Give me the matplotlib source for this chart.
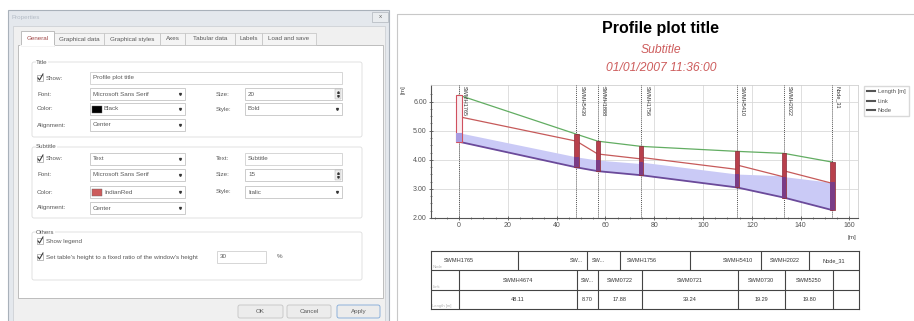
import numpy as np
import matplotlib
matplotlib.use('Agg')
import matplotlib.pyplot as plt
from matplotlib.patches import Rectangle, FancyBboxPatch
from matplotlib.lines import Line2D

plt.rcParams['font.family'] = ['Liberation Sans', 'DejaVu Sans']

# ---- profile data ----
node_names = ['SWMH1765', 'SWMH5439', 'SWMH1888', 'SWMH1756', 'SWMH5410', 'SWMH2022', 'Node_31']
node_table_labels = ['SWMH1765', 'SW...', 'SW...', 'SWMH1756', 'SWMH5410', 'SWMH2022', 'Node_31']
link_labels = ['SWMH4674', 'SW...', 'SWM0722', 'SWM0721', 'SWM0730', 'SWM5250']
link_lengths = [48.11, 8.70, 17.88, 39.24, 19.29, 19.80]

ground_level = [6.22, 4.88, 4.64, 4.46, 4.29, 4.22, 3.92]
node_invert = [4.62, 3.74, 3.61, 3.47, 3.05, 2.70, 2.27]
node_water = [4.93, 4.10, 3.99, 3.92, 3.51, 3.42, 3.22]

link_inv_up = [4.62, 3.74, 3.61, 3.47, 3.05, 2.70]
link_inv_dn = [3.74, 3.61, 3.47, 3.05, 2.70, 2.27]
link_top_up = [5.48, 4.64, 4.20, 4.08, 3.82, 3.62]
link_top_dn = [4.64, 4.20, 4.03, 3.67, 3.41, 3.19]
water_up = [4.93, 4.10, 3.99, 3.92, 3.51, 3.42]
water_dn = [4.10, 3.99, 3.87, 3.51, 3.45, 3.22]

chainage = np.concatenate([[0], np.cumsum(link_lengths)])

W, H = 914, 321
fig = plt.figure(figsize=(W / 100, H / 100), dpi=100)
fig.patch.set_facecolor('white')

bg = fig.add_axes([0, 0, 1, 1])
bg.set_xlim(0, W)
bg.set_ylim(H, 0)
bg.axis('off')


def px_axes(x0, y0, x1, y1):
    return fig.add_axes([x0 / W, 1 - y1 / H, (x1 - x0) / W, (y1 - y0) / H])


def rect(x0, y0, x1, y1, fc, ec, lw=0.6, z=1, rounded=False):
    if rounded:
        p = FancyBboxPatch((x0, y0), x1 - x0, y1 - y0, boxstyle='round,pad=0,rounding_size=2',
                           facecolor=fc, edgecolor=ec, lw=lw, zorder=z)
    else:
        p = Rectangle((x0, y0), x1 - x0, y1 - y0, facecolor=fc, edgecolor=ec, lw=lw, zorder=z)
    bg.add_patch(p)


def txt(x, y, s, size=4.5, color='#5a5a5a', **kw):
    kw.setdefault('ha', 'left')
    kw.setdefault('va', 'center')
    bg.text(x, y, s, fontsize=size, color=color, zorder=5, **kw)


def combo(x0, x1, y, s, swatch=None):
    rect(x0, y - 6, x1, y + 6, 'white', '#c4c4c4', z=3)
    tx = x0 + 3
    if swatch:
        rect(x0 + 2, y - 3.5, x0 + 12, y + 3.5, swatch, '#666', lw=0.3, z=4)
        tx = x0 + 14
    txt(tx, y, s)
    bg.plot(x1 - 5, y, marker='v', ms=1.4, color='#333', zorder=5)


def spin(x0, x1, y, s):
    rect(x0, y - 6, x1, y + 6, 'white', '#c4c4c4', z=3)
    txt(x0 + 3, y, s)
    rect(x1 - 7, y - 5, x1 - 1, y + 5, '#eeeeee', '#aaa', lw=0.3, z=4)
    bg.plot(x1 - 4, y - 2, marker='^', ms=1.2, color='#333', zorder=5)
    bg.plot(x1 - 4, y + 2, marker='v', ms=1.2, color='#333', zorder=5)


def textbox(x0, x1, y, s):
    rect(x0, y - 6, x1, y + 6, 'white', '#d0d0d0', z=3)
    txt(x0 + 3, y, s)


def checkbox(x, y):
    rect(x - 3, y - 3, x + 3, y + 3, 'white', '#8a8a8a', lw=0.4, z=3)
    bg.plot([x - 2, x - 0.5, x + 3], [y, y + 2, y - 4], color='#3a3a3a', lw=0.8, zorder=5)


def group(x0, y0, x1, y1, label):
    rect(x0, y0, x1, y1, 'none', '#dcdcdc', lw=0.6, z=2, rounded=True)
    txt(x0 + 4, y0, label, bbox=dict(facecolor='white', edgecolor='none', pad=0.3))


# ---- Properties dialog ----
rect(8, 10, 389, 330, '#e4e8ed', '#a9b1ba', lw=0.8)
txt(12, 17, 'Properties', color='#b4bcc6')
rect(372, 12, 388, 22, '#e9ecef', '#b0b6bd', lw=0.5, z=2)
txt(380, 17, 'x', size=4.5, color='#666', ha='center')
rect(13, 26, 385, 330, '#f0f0f0', '#c8ccd0', lw=0.5)
rect(18, 45, 383, 298, 'white', '#b4b4b4', lw=0.6, z=2)

tabs = [('General', 21, 54), ('Graphical data', 54, 104), ('Graphical styles', 104, 160),
        ('Axes', 160, 185), ('Tabular data', 185, 235), ('Labels', 235, 262),
        ('Load and save', 262, 316)]
for i, (name, x0, x1) in enumerate(tabs):
    if i == 0:
        rect(x0, 31, x1, 46, 'white', '#b4b4b4', lw=0.6, z=3)
        bg.plot([x0 + 0.4, x1 - 0.4], [45.5, 45.5], color='white', lw=1.2, zorder=4)
        txt((x0 + x1) / 2, 38, name, color='#a04848', ha='center')
    else:
        rect(x0, 33, x1, 45, '#f4f4f4', '#c0c0c0', lw=0.5, z=2)
        txt((x0 + x1) / 2, 39, name, ha='center')

# Title group
group(32, 62, 362, 137, 'Title')
checkbox(40, 78)
txt(46, 78, 'Show:')
textbox(90, 342, 78, 'Profile plot title')
txt(37, 94, 'Font:')
combo(90, 185, 94, 'Microsoft Sans Serif')
txt(216, 94, 'Size:')
spin(245, 342, 94, '20')
txt(37, 109, 'Color:')
combo(90, 185, 109, 'Black', swatch='black')
txt(216, 109, 'Style:')
combo(245, 342, 109, 'Bold')
txt(37, 125, 'Alignment:')
combo(90, 185, 125, 'Center')

# Subtitle group
group(32, 147, 362, 218, 'Subtitle')
checkbox(40, 159)
txt(46, 159, 'Show:')
combo(90, 185, 159, 'Text')
txt(216, 159, 'Text:')
textbox(245, 342, 159, 'Subtitle')
txt(37, 175, 'Font:')
combo(90, 185, 175, 'Microsoft Sans Serif')
txt(216, 175, 'Size:')
spin(245, 342, 175, '15')
txt(37, 192, 'Color:')
combo(90, 185, 192, 'IndianRed', swatch='#cd5c5c')
txt(216, 192, 'Style:')
combo(245, 342, 192, 'Italic')
txt(37, 208, 'Alignment:')
combo(90, 185, 208, 'Center')

# Others group
group(32, 232, 362, 280, 'Others')
checkbox(40, 241)
txt(46, 241, 'Show legend')
checkbox(40, 257)
txt(46, 257, "Set table's height to a fixed ratio of the window's height")
textbox(217, 266, 257, '30')
txt(277, 257, '%')

# buttons
for name, x0, x1, ec in [('OK', 238, 283, '#c4c4c4'), ('Cancel', 287, 331, '#c4c4c4'),
                         ('Apply', 337, 380, '#7fa8d8')]:
    rect(x0, 305, x1, 318, '#ececec', ec, lw=0.6, z=3, rounded=True)
    txt((x0 + x1) / 2, 311.5, name, ha='center')

# ---- chart panel ----
bg.plot([397, 397, W], [H, 14, 14], color='#c8c8c8', lw=0.8, zorder=2)
txt(660, 29, 'Profile plot title', size=11.5, color='black', ha='center', weight='bold')
txt(661, 50, 'Subtitle', size=8.7, color='#cd5c5c', ha='center', style='italic')
txt(661, 68, '01/01/2007 11:36:00', size=8.7, color='#cd5c5c', ha='center', style='italic')
txt(403, 90, '[m]', size=4.5, color='#444', ha='center', rotation=90)
txt(852, 237, '[m]', size=4.5, color='#444', ha='center')

xlim = (-11.5, 163.5)
ylim = (2.0, 6.57)

ax = px_axes(431, 85, 858, 218)
ax.set_xlim(*xlim)
ax.set_ylim(*ylim)
ax.set_xticks(np.arange(0, 161, 20))
ax.set_xticks(np.arange(-10, 161, 5), minor=True)
ax.set_yticks(np.arange(2, 6.1, 1))
ax.set_yticks(np.arange(2, 6.5, 0.25), minor=True)
ax.yaxis.set_major_formatter(matplotlib.ticker.FormatStrFormatter('%.2f'))
ax.tick_params(which='both', direction='inout', labelsize=5, colors='#555', pad=1.5)
ax.tick_params(which='major', length=3, width=0.6)
ax.tick_params(which='minor', length=1.5, width=0.5)
ax.grid(True, which='major', color='#d9d9d9', lw=0.6)
for side in ['top', 'right']:
    ax.spines[side].set_color('#d0d0d0')
    ax.spines[side].set_linewidth(0.6)
for side in ['left', 'bottom']:
    ax.spines[side].set_color('#555')
    ax.spines[side].set_linewidth(0.8)
ax.set_axisbelow(True)

for i in range(len(link_lengths)):
    xs = [chainage[i], chainage[i + 1]]
    ax.fill_between(xs, [link_inv_up[i], link_inv_dn[i]], [water_up[i], water_dn[i]],
                    color='#cacaf6', lw=0, zorder=2)
    ax.plot(xs, [link_top_up[i], link_top_dn[i]], color='#c65a5a', lw=0.9, zorder=3)
    ax.plot(xs, [link_inv_up[i], link_inv_dn[i]], color='#6b4a9a', lw=1.3, zorder=3)

ax.plot(chainage, ground_level, color='#62ad62', lw=0.9, zorder=3)

for i, c in enumerate(chainage):
    ax.axvline(c, color='#555', ls=(0, (1, 1)), lw=0.7, zorder=4)
    if i == 0:
        w = 2.6
        ax.add_patch(Rectangle((c - w / 2, node_invert[i]), w, ground_level[i] - node_invert[i],
                               facecolor='#faeef2', edgecolor='#d0505e', lw=0.8, zorder=5))
        ax.add_patch(Rectangle((c - w / 2, node_invert[i]), w, node_water[i] - node_invert[i],
                               facecolor='#a99ce0', edgecolor='none', zorder=5))
    else:
        w = 1.7
        ax.add_patch(Rectangle((c - w / 2, node_invert[i]), w, ground_level[i] - node_invert[i],
                               facecolor='#b8404c', edgecolor='#8a2a3a', lw=0.5, zorder=5))
        ax.add_patch(Rectangle((c - w / 2, node_invert[i]), w, node_water[i] - node_invert[i],
                               facecolor='#7a3c86', edgecolor='none', zorder=6))
    ax.text(c + 1.3, ylim[1] - 0.04, node_names[i], rotation=-90, va='top', ha='left',
            fontsize=4, color='#333', zorder=7)

leg_handles = [Line2D([], [], color='#555', lw=1.5) for _ in range(3)]
fig.legend(leg_handles, ['Length [m]', 'Link', 'Node'], loc='upper left',
           bbox_to_anchor=(864 / W, 1 - 86 / H), fontsize=4.2, frameon=True,
           fancybox=False, edgecolor='#d0d0d0', handlelength=1.4, handletextpad=0.5,
           borderpad=0.5, borderaxespad=0, labelspacing=0.8, labelcolor='#555')

# ---- table below the chart ----
tax = px_axes(431, 251, 859, 309)
tax.set_xlim(*xlim)
tax.set_ylim(3, 0)
tax.set_xticks([])
tax.set_yticks([])
for s in tax.spines.values():
    s.set_color('#444')
    s.set_linewidth(0.8)

mids = (chainage[:-1] + chainage[1:]) / 2
tax.hlines([1, 2], *xlim, color='#444', lw=0.8)
tax.vlines(mids, 0, 1, color='#444', lw=0.8)
tax.vlines(chainage, 1, 3, color='#444', lw=0.8)

for i, c in enumerate(chainage):
    tax.text(c, 0.5, node_table_labels[i], ha='center', va='center', fontsize=4, color='#333')
for i, m in enumerate(mids):
    tax.text(m, 1.5, link_labels[i], ha='center', va='center', fontsize=4, color='#333')
    tax.text(m, 2.5, f'{link_lengths[i]:.2f}', ha='center', va='center', fontsize=4, color='#333')
for r, name in enumerate(['Node', 'Link', 'Length [m]']):
    tax.text(xlim[0] + 0.6, r + 0.95, name, ha='left', va='bottom', fontsize=3, color='#b0b0b0')

fig.savefig('out.png', dpi=100, facecolor='white')
